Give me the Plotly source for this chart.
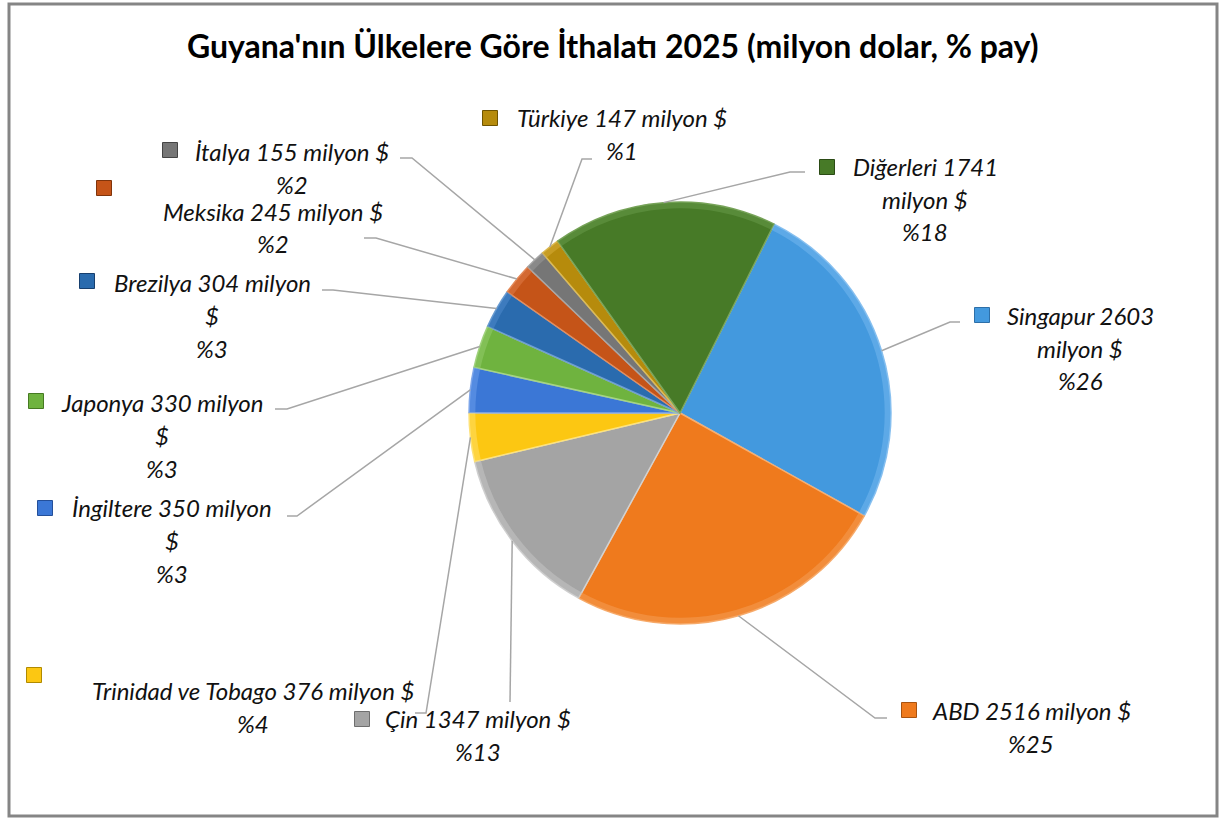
import math
import textwrap
import plotly.graph_objects as go

# --- data -------------------------------------------------------------
countries = ["Singapur", "ABD", "Çin", "Trinidad ve Tobago", "İngiltere",
             "Japonya", "Brezilya", "Meksika", "İtalya", "Türkiye", "Diğerleri"]
imports_musd = [2603, 2516, 1347, 376, 350, 330, 304, 245, 155, 147, 1741]
share_pct = [26, 25, 13, 4, 3, 3, 3, 2, 2, 1, 18]

# --- styling ----------------------------------------------------------
slice_colors = ["#4399de", "#ef7a1d", "#a4a4a4", "#fcc712", "#3b77d6",
                "#6fb33f", "#2a6bae", "#c55418", "#767676", "#b68b0c", "#477a27"]
edge_colors = ["#8cc2f0", "#f7ae70", "#d2d2d2", "#fde27c", "#86aaea",
               "#a5d484", "#6f9fd2", "#e48e5e", "#a8a8a8", "#dcbb57", "#7aa55c"]
rim_colors = ["rgba(120,185,240,0.5)", "rgba(245,160,90,0.5)", "rgba(200,200,200,0.5)",
              "rgba(255,225,110,0.5)", "rgba(110,160,235,0.5)", "rgba(150,205,110,0.5)",
              "rgba(80,140,205,0.5)", "rgba(225,125,75,0.5)", "rgba(155,155,155,0.5)",
              "rgba(215,175,60,0.5)", "rgba(105,155,75,0.5)"]
key_borders = ["#2d6fa8", "#a9530f", "#6e6e6e", "#b08a00", "#244f99",
               "#467a22", "#173f6e", "#80340b", "#444444", "#6f5400", "#2b4b15"]

W, H = 1219, 818
PIE_CX, PIE_CY, PIE_R = 680, 413, 211
ROTATION = 26.5
FONT = "Lato"
LEADER = "#a6a6a6"
LINE_STEP = 33
KEY = 15

# label layout per slice: text centre x, first line y, wrap width,
# leader elbow and leader end, legend key centre
label_cx = [1080, 1031, 478, 253, 172, 162, 212, 273, 292, 622, 925]
label_y = [315, 710, 718, 690, 507, 402, 282, 211, 151, 117, 166]
wrap_width = [14, 40, 40, 40, 20, 18, 19, 40, 40, 40, 14]
leader_elbow = [(950, 322), (875, 718), (510, 702), (426, 713), (297, 516),
                (287, 409), (333, 290), (376, 238), (412, 158), (582, 159), (790, 172)]
leader_end = [(960, 322), (887, 718), (510, 702), (415, 713), (287, 516),
              (275, 409), (322, 290), (364, 238), (400, 158), (592, 159), (805, 172)]
key_pos = [(982, 315), (909, 710), (362, 719), (34, 675), (45, 508),
           (36, 401), (87, 281), (104, 188), (170, 150), (490, 118), (827, 167)]


def px(x):
    return x / W


def py(y):
    return 1 - y / H


pie_domain = dict(x=[px(PIE_CX - PIE_R), px(PIE_CX + PIE_R)],
                  y=[py(PIE_CY + PIE_R), py(PIE_CY - PIE_R)])

fig = go.Figure()
fig.add_trace(go.Pie(
    labels=countries,
    values=imports_musd,
    sort=False,
    direction="clockwise",
    rotation=ROTATION,
    textinfo="none",
    hoverinfo="label+value",
    showlegend=False,
    marker=dict(colors=slice_colors, line=dict(color=edge_colors, width=1.5)),
    domain=pie_domain,
))
# light bevel band along the outer edge of each slice
fig.add_trace(go.Pie(
    labels=countries,
    values=imports_musd,
    sort=False,
    direction="clockwise",
    rotation=ROTATION,
    hole=0.97,
    textinfo="none",
    hoverinfo="skip",
    showlegend=False,
    marker=dict(colors=rim_colors, line=dict(width=0)),
    domain=pie_domain,
))

shapes = []
annotations = []

# outer chart frame
shapes.append(dict(type="rect", xref="paper", yref="paper",
                   x0=px(9), x1=px(1217), y0=py(816), y1=py(4),
                   line=dict(color="#858585", width=3), layer="above"))

total = sum(imports_musd)
cum = 0
for i, name in enumerate(countries):
    v = imports_musd[i]
    mid = math.radians(ROTATION + (cum + v / 2) / total * 360)
    cum += v
    sx = PIE_CX + PIE_R * math.sin(mid)
    sy = PIE_CY - PIE_R * math.cos(mid)
    ex, ey = leader_elbow[i]
    tx, ty = leader_end[i]
    shapes.append(dict(
        type="path", xref="paper", yref="paper",
        path=f"M {px(sx)} {py(sy)} L {px(ex)} {py(ey)} L {px(tx)} {py(ty)}",
        line=dict(color=LEADER, width=1.5)))

    kx, ky = key_pos[i]
    shapes.append(dict(type="rect", xref="paper", yref="paper",
                       x0=px(kx - KEY / 2), x1=px(kx + KEY / 2),
                       y0=py(ky + KEY / 2), y1=py(ky - KEY / 2),
                       fillcolor=slice_colors[i],
                       line=dict(color=key_borders[i], width=1)))

    lines = textwrap.wrap(f"{name} {v} milyon $", wrap_width[i])
    lines.append(f"%{share_pct[i]}")
    for k, line in enumerate(lines):
        annotations.append(dict(
            x=px(label_cx[i]), y=py(label_y[i] + k * LINE_STEP),
            xref="paper", yref="paper", text=line, showarrow=False,
            xanchor="center", yanchor="middle",
            font=dict(family=FONT, size=24, color="#111111", style="italic")))

annotations.append(dict(
    x=px(613), y=py(46), xref="paper", yref="paper",
    text="<b>Guyana'nın Ülkelere Göre İthalatı 2025 (milyon dolar, % pay)</b>",
    showarrow=False, xanchor="center", yanchor="middle",
    font=dict(family=FONT, size=32, color="#000000")))

fig.update_layout(
    width=W, height=H,
    margin=dict(l=0, r=0, t=0, b=0),
    paper_bgcolor="white", plot_bgcolor="white",
    shapes=shapes, annotations=annotations,
)

fig.write_html("out.html")
